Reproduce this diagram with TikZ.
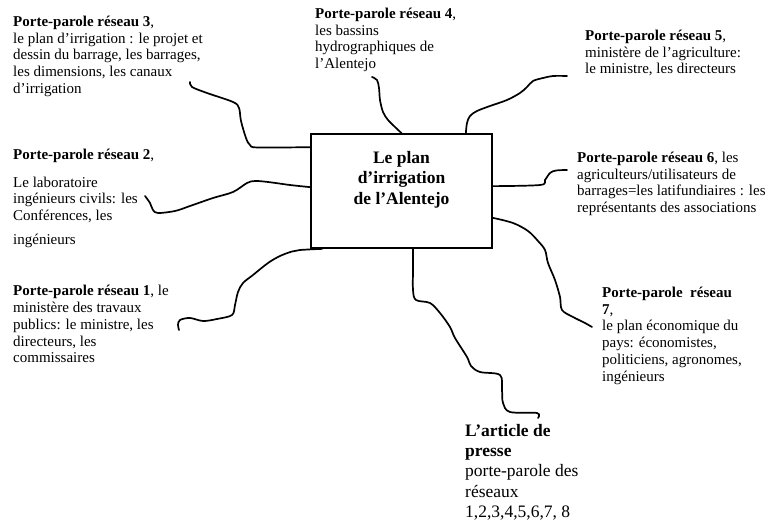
\documentclass[tikz,border=0pt]{standalone}
\usepackage{fontspec}
\setmainfont{Liberation Serif}
\usetikzlibrary{positioning}

\tikzset{
  spoke/.style={anchor=north west,inner sep=0pt,align=left,
                font=\fontsize{15}{16.8}\selectfont},
  big/.style={inner sep=0pt,font=\fontsize{17.5}{20.3}\selectfont},
  link/.style={line width=1.7pt,line cap=round,line join=round},
}

\begin{document}
\begin{tikzpicture}[x=1pt,y=-1pt]
  \useasboundingbox (0,0) rectangle (768,521);
  % the central box
  \node [draw,line width=1.7pt,minimum width=181pt,minimum height=114pt,
         inner sep=0pt] (plan) at (401.5,191) {};
  \node [big,align=center,anchor=north,font=\fontsize{17.5}{20.5}\selectfont\bfseries]
        (titre) at (401.5,151) {Le plan\\d’irrigation\\de l’Alentejo};

  % the spokespersons
  \node [spoke] (g3) at (13,15.6) {\textbf{Porte-parole réseau 3},\\le plan d’irrigation : le projet et\\dessin du barrage, les barrages,\\les dimensions, les canaux\\d’irrigation};
  \node [spoke] (g4) at (315,7.6) {\textbf{Porte-parole réseau 4},\\les bassins\\hydrographiques de\\l’Alentejo};
  \node [spoke] (g5) at (585,29.6) {\textbf{Porte-parole réseau 5},\\ministère de l’agriculture:\\le ministre, les directeurs};
  \node [spoke] (g2) at (13,148.6) {\textbf{Porte-parole réseau 2},\\[11pt]Le laboratoire\\ingénieurs civils: les\\Conférences, les\\[7pt]ingénieurs};
  \node [spoke] (g6) at (577,151.6) {\textbf{Porte-parole réseau 6}, les\\agriculteurs/utilisateurs de\\barrages=les latifundiaires : les\\représentants des associations};
  \node [spoke] (g1) at (13,285) {\textbf{Porte-parole réseau 1}, le\\ministère des travaux\\publics: le ministre, les\\directeurs, les\\commissaires};
  \node [spoke] (g7) at (602,286.6) {\textbf{Porte-parole\ \ réseau}\\\textbf{7},\\le plan économique du\\pays: économistes,\\politiciens, agronomes,\\ingénieurs};
  \node [big,anchor=north west,align=left] (art) at (465,424) {\textbf{L’article de}\\\textbf{presse}\\porte-parole des\\réseaux\\1,2,3,4,5,6,7, 8};

  % where the lines meet the box
  \coordinate (a1) at ([xshift=12pt]plan.south west);
  \coordinate (a2) at ([yshift=-54pt]plan.north west);
  \coordinate (a3) at ([yshift=-14pt]plan.north west);
  \coordinate (a4) at (plan.north);
  \coordinate (a5) at ([xshift=-27pt]plan.north east);
  \coordinate (a6) at ([yshift=-53pt]plan.north east);
  \coordinate (a7) at ([yshift=31pt]plan.south east);
  \coordinate (aa) at ([xshift=11.5pt]plan.south);
  % and where they stop near the texts
  \coordinate (e1) at (179,330);
  \coordinate (e2) at (145,196);
  \coordinate (e3) at (190,82);
  \coordinate (e4) at (372,77);
  \coordinate (e5) at (567,76);
  \coordinate (e6) at (567,170);
  \coordinate (e7) at (592,327);
  \coordinate (ea) at (538,418);

  \draw [link] plot [smooth,tension=.55] coordinates {(a3) (258,147.5) (250,145) (246,138) (241,121) (239,108) (233,102) (207,93) (192,87) (e3)};
  \draw [link] plot [smooth,tension=.55] coordinates {(a2) (290,185) (268,182) (255,181) (247,183) (233,192) (213,198) (190,206) (175,211) (158,213) (153,210) (150,203) (e2)};
  \draw [link] plot [smooth,tension=.55] coordinates {(a1) (300,250) (292,251.5) (280,256) (268,263) (253,275) (243,283) (238,292) (235,305) (232,315) (217,319) (203,321) (190,318) (180,320) (178,325) (e1)};
  \draw [link] plot [smooth,tension=.55] coordinates {(a4) (395,127) (388,120) (383,112) (380,100) (379,88) (377,80) (e4)};
  \draw [link] plot [smooth,tension=.55] coordinates {(a5) (467,123) (470,116) (477,111) (490,106) (507,100) (520,93) (527,87) (533,81) (543,78) (553,76) (e5)};
  \draw [link] plot [smooth,tension=.55] coordinates {(a6) (540,185) (545,180) (550,173) (556,170.5) (e6)};
  \draw [link] plot [smooth,tension=.55] coordinates {(a7) (513,223) (528,231) (538,241) (545,250) (548,263) (555,280) (560,297) (562,310) (573,317) (585,323) (e7)};
  \draw [link] plot [smooth,tension=.55] coordinates {(aa) (413,270) (413,290) (416,300) (430,303) (440,313) (450,327) (455,338) (467,357) (471,366) (480,372) (500,375) (502,390) (503,403) (510,412) (537,413) (ea)};
\end{tikzpicture}
\end{document}
